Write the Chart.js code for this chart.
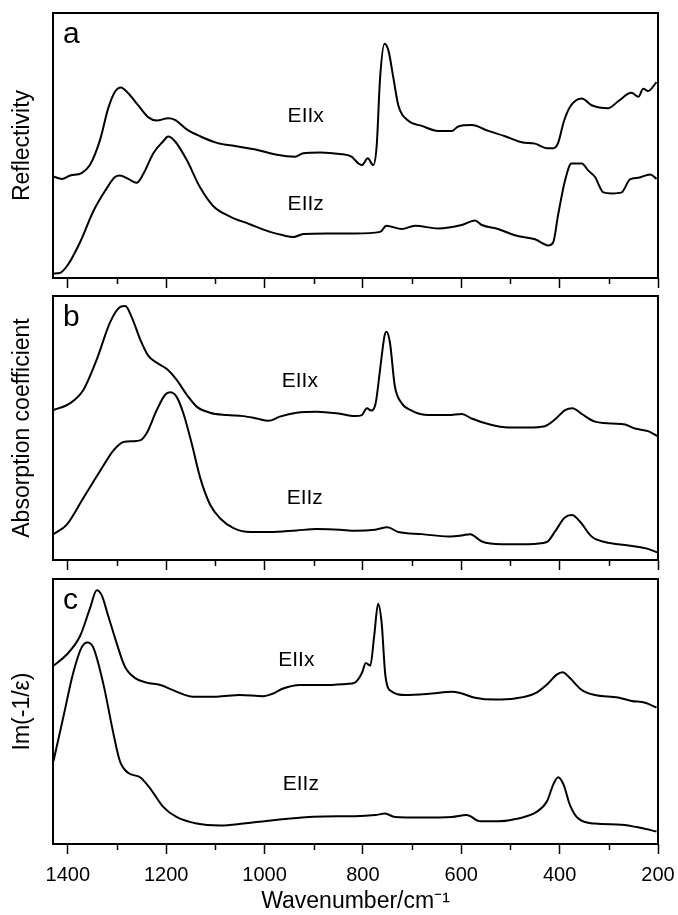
<!DOCTYPE html>
<html>
<head>
<meta charset="utf-8">
<script src="https://cdn.jsdelivr.net/npm/chart.js@4.4.0/dist/chart.umd.min.js"></script>
<style>
  html, body { margin: 0; padding: 0; background: #fff; }
  #wrap { position: relative; width: 678px; height: 915px; }
  #wrap canvas { position: absolute; left: 0; }
</style>
</head>
<body>
<div id="wrap">
  <canvas id="panelA" width="678" height="290" style="top:0px"></canvas>
  <canvas id="panelB" width="678" height="282" style="top:290px"></canvas>
  <canvas id="panelC" width="678" height="343" style="top:572px"></canvas>
</div>
<script>
// wavenumber axis
const xMin = 200;
const xMax = 1430;
const tickValues = [200, 300, 400, 500, 600, 700, 800, 900, 1000, 1100, 1200, 1300, 1400];

// (a) reflectivity, E||x
const reflXWn = [1429, 1412, 1395, 1372, 1355, 1334, 1318, 1304, 1292, 1277, 1257, 1236, 1219, 1196, 1182, 1158, 1131, 1097, 1057, 1016, 975, 938, 921, 887, 847, 823, 816, 809, 802, 790, 779, 772, 765, 756, 748, 738, 728, 708, 680, 647, 619, 606, 579, 545, 511, 477, 450, 426, 413, 403, 392, 379, 355, 335, 301, 281, 254, 240, 230, 220, 203];
const reflXVal = [38.3, 37.4, 38.7, 39.6, 42.6, 52.3, 63.9, 70.3, 71.9, 69.7, 65.2, 60.6, 59.4, 60.3, 59.7, 56.1, 53.5, 51.0, 49.7, 48.4, 46.5, 45.8, 47.1, 47.4, 46.8, 45.8, 44.5, 43.2, 42.6, 45.2, 42.6, 49.7, 75.5, 88.4, 85.8, 75.5, 65.2, 59.4, 57.4, 55.5, 55.5, 57.2, 57.7, 55.5, 53.5, 51.2, 50.7, 49.0, 49.0, 51.0, 58.7, 64.5, 67.7, 65.2, 64.1, 66.7, 69.9, 68.4, 71.4, 70.6, 73.9];
// (a) reflectivity, E||z
const reflZWn = [1429, 1416, 1399, 1375, 1348, 1324, 1304, 1294, 1277, 1260, 1246, 1226, 1206, 1196, 1182, 1158, 1131, 1104, 1070, 1030, 989, 962, 941, 921, 874, 816, 765, 752, 721, 694, 647, 599, 572, 558, 525, 491, 450, 423, 413, 403, 389, 376, 355, 342, 328, 311, 294, 274, 257, 240, 216, 203];
const reflZVal = [1.7, 1.9, 5.2, 13.5, 25.2, 32.9, 38.1, 38.7, 37.4, 35.9, 39.4, 47.1, 51.6, 53.4, 51.6, 44.5, 34.2, 27.1, 23.2, 20.3, 17.4, 16.1, 15.5, 16.6, 16.8, 16.8, 17.4, 19.7, 18.5, 19.7, 18.7, 20.0, 21.7, 20.0, 18.5, 16.1, 14.6, 12.3, 13.5, 23.9, 36.8, 43.2, 43.2, 40.6, 38.1, 32.3, 31.9, 32.3, 37.2, 37.8, 39.1, 37.4];

// (b) absorption coefficient, E||x
const absXWn = [1429, 1395, 1368, 1341, 1314, 1294, 1283, 1270, 1253, 1236, 1219, 1199, 1179, 1158, 1138, 1111, 1077, 1043, 1016, 992, 969, 935, 894, 853, 816, 802, 792, 783, 774, 765, 756, 752, 745, 735, 721, 701, 667, 626, 599, 579, 545, 504, 464, 430, 409, 389, 374, 355, 328, 294, 267, 247, 220, 201];
const absXVal = [56.8, 59.4, 64.5, 76.0, 90.0, 95.8, 96.2, 92.0, 83.7, 77.3, 74.7, 72.4, 68.3, 62.6, 58.1, 55.8, 54.9, 54.5, 53.6, 52.7, 54.3, 55.8, 56.2, 55.6, 54.5, 54.9, 57.5, 56.6, 59.4, 72.2, 84.9, 86.5, 82.4, 65.8, 59.4, 56.6, 54.9, 54.9, 55.3, 53.6, 51.5, 50.2, 50.2, 50.7, 53.3, 56.8, 57.5, 55.3, 52.4, 51.7, 51.3, 49.8, 48.8, 46.9];
// (b) absorption coefficient, E||z
const absZWn = [1429, 1402, 1368, 1334, 1307, 1287, 1267, 1253, 1240, 1219, 1202, 1192, 1179, 1165, 1148, 1131, 1111, 1090, 1063, 1029, 989, 935, 894, 847, 816, 775, 750, 728, 680, 626, 599, 582, 558, 518, 464, 426, 409, 390, 375, 358, 335, 308, 260, 226, 201];
const absZVal = [9.8, 13.4, 23.6, 33.8, 41.5, 44.7, 45.0, 45.3, 47.9, 56.8, 62.6, 63.5, 61.9, 55.6, 44.1, 31.3, 21.1, 15.7, 12.1, 10.6, 10.6, 11.2, 11.7, 11.5, 11.1, 11.5, 12.4, 10.6, 9.8, 8.9, 9.3, 9.8, 7.0, 6.0, 6.0, 6.8, 10.9, 16.0, 17.0, 14.4, 8.9, 6.8, 5.5, 4.5, 2.9];

// (c) loss function Im(-1/eps), E||x
const lossXWn = [1429, 1402, 1375, 1355, 1341, 1331, 1318, 1301, 1284, 1263, 1240, 1212, 1179, 1145, 1097, 1050, 1002, 985, 962, 928, 880, 833, 816, 802, 794, 785, 777, 769, 762, 754, 741, 714, 660, 619, 599, 572, 531, 491, 450, 423, 406, 394, 379, 355, 328, 281, 254, 226, 203];
const lossXVal = [67.3, 71.5, 78.5, 88.8, 95.8, 93.9, 86.2, 76.0, 67.0, 62.6, 60.9, 60.0, 57.5, 55.6, 55.6, 56.2, 55.8, 56.6, 58.7, 60.0, 60.0, 60.4, 60.9, 64.5, 68.3, 67.3, 78.5, 90.7, 83.7, 63.2, 57.5, 56.2, 56.8, 57.5, 56.8, 55.2, 54.5, 54.9, 56.8, 60.7, 63.9, 64.8, 62.6, 58.1, 56.2, 55.3, 54.0, 53.3, 51.5];
// (c) loss function Im(-1/eps), E||z
const lossZWn = [1429, 1409, 1389, 1372, 1360, 1348, 1328, 1307, 1294, 1277, 1253, 1233, 1206, 1179, 1138, 1090, 1043, 996, 948, 901, 853, 816, 775, 755, 735, 680, 619, 589, 562, 525, 484, 447, 426, 413, 403, 392, 379, 362, 328, 274, 233, 203];
const lossZVal = [31.3, 47.9, 64.5, 74.1, 76.0, 74.1, 60.7, 41.5, 31.3, 26.8, 25.2, 21.1, 14.0, 10.2, 7.7, 7.0, 7.7, 8.7, 9.6, 10.3, 10.5, 10.5, 10.9, 11.5, 10.2, 10.0, 10.2, 10.9, 8.6, 8.6, 9.6, 12.1, 16.0, 22.4, 25.2, 22.4, 14.7, 9.6, 7.7, 7.3, 6.0, 4.7];

// curve labels: text, wavenumber of left edge, baseline height
const curveLabelText = ['EIIx', 'EIIz'];
const reflLabelWn = [953, 953];
const reflLabelY = [58.9, 25.7];
const absLabelWn = [965, 955];
const absLabelY = [65.5, 21.2];
const lossLabelWn = [972, 963];
const lossLabelY = [67.2, 20.4];

const FONT = "'Liberation Sans', Arial, Helvetica, sans-serif";

function toPoints(xs, ys) {
    return xs.map((x, i) => ({ x: x, y: ys[i] }));
}

// frame, minor ticks, panel letter and curve labels
const panelDeco = {
    id: 'panelDeco',
    afterDraw(chart, args, opts) {
        const { ctx, chartArea } = chart;
        const xs = chart.scales.x;
        const ys = chart.scales.y;
        ctx.save();
        ctx.strokeStyle = '#000';
        ctx.lineWidth = 2;
        ctx.strokeRect(chartArea.left, chartArea.top, chartArea.right - chartArea.left, chartArea.bottom - chartArea.top);

        // minor ticks (odd hundreds), majors come from the axis grid
        ctx.lineWidth = 1.5;
        tickValues.forEach((v) => {
            if (v % 200 === 0) return;
            const px = Math.round(xs.getPixelForValue(v)) + 0.5;
            ctx.beginPath();
            ctx.moveTo(px, chartArea.bottom);
            ctx.lineTo(px, chartArea.bottom + 6);
            ctx.stroke();
        });

        ctx.fillStyle = '#000';
        ctx.textBaseline = 'alphabetic';
        ctx.textAlign = 'left';
        ctx.font = '30px ' + FONT;
        ctx.fillText(opts.letter, chartArea.left + 10, chartArea.top + 30);

        ctx.font = '21px ' + FONT;
        curveLabelText.forEach((t, i) => {
            ctx.fillText(t, xs.getPixelForValue(opts.labelWn[i]), ys.getPixelForValue(opts.labelY[i]));
        });
        ctx.restore();
    }
};

function panelChart(canvasId, cfg) {
    const ctx = document.getElementById(canvasId).getContext('2d');
    return new Chart(ctx, {
        type: 'line',
        data: {
            datasets: [
                { data: toPoints(cfg.xWn, cfg.xVal) },
                { data: toPoints(cfg.zWn, cfg.zVal) }
            ]
        },
        options: {
            responsive: false,
            animation: false,
            devicePixelRatio: 1,
            layout: { padding: { top: cfg.padTop, right: 20, left: 0, bottom: 0 } },
            elements: {
                point: { radius: 0 },
                line: { borderColor: '#000', borderWidth: 2, cubicInterpolationMode: 'monotone', fill: false }
            },
            plugins: {
                legend: { display: false },
                tooltip: { enabled: false },
                panelDeco: { letter: cfg.letter, labelWn: cfg.labelWn, labelY: cfg.labelY }
            },
            scales: {
                x: {
                    type: 'linear',
                    reverse: true,
                    min: xMin,
                    max: xMax,
                    afterFit: (s) => { s.height = cfg.xHeight; },
                    afterBuildTicks: (s) => { s.ticks = tickValues.map(v => ({ value: v })); },
                    border: { display: false },
                    grid: {
                        drawOnChartArea: false,
                        drawTicks: true,
                        tickLength: 10,
                        tickWidth: 1.5,
                        tickColor: (c) => (c.tick && c.tick.value % 200 === 0) ? '#000' : 'rgba(0,0,0,0)'
                    },
                    ticks: {
                        autoSkip: false,
                        maxRotation: 0,
                        padding: 9,
                        color: '#000',
                        font: { family: FONT, size: 20 },
                        callback: (v) => (cfg.showLabels && v % 200 === 0) ? String(v) : ''
                    },
                    title: {
                        display: cfg.showLabels,
                        text: 'Wavenumber/cm\u207B\u00B9',
                        color: '#000',
                        font: { family: FONT, size: 23 },
                        padding: { top: 0, bottom: 0 }
                    }
                },
                y: {
                    min: 0,
                    max: 100,
                    afterFit: (s) => { s.width = 53; },
                    border: { display: false },
                    grid: { display: false },
                    ticks: { display: false },
                    title: {
                        display: true,
                        text: cfg.yTitle,
                        color: '#000',
                        font: { family: FONT, size: 23 },
                        padding: { top: 9, bottom: 0 }
                    }
                }
            }
        },
        plugins: [panelDeco]
    });
}

panelChart('panelA', {
    xWn: reflXWn, xVal: reflXVal, zWn: reflZWn, zVal: reflZVal,
    padTop: 13, xHeight: 12, showLabels: false,
    yTitle: 'Reflectivity', letter: 'a',
    labelWn: reflLabelWn, labelY: reflLabelY
});

panelChart('panelB', {
    xWn: absXWn, xVal: absXVal, zWn: absZWn, zVal: absZVal,
    padTop: 6, xHeight: 12, showLabels: false,
    yTitle: 'Absorption coefficient', letter: 'b',
    labelWn: absLabelWn, labelY: absLabelY
});

panelChart('panelC', {
    xWn: lossXWn, xVal: lossXVal, zWn: lossZWn, zVal: lossZVal,
    padTop: 7, xHeight: 71, showLabels: true,
    yTitle: 'Im(-1/\u03B5)', letter: 'c',
    labelWn: lossLabelWn, labelY: lossLabelY
});
</script>
</body>
</html>
